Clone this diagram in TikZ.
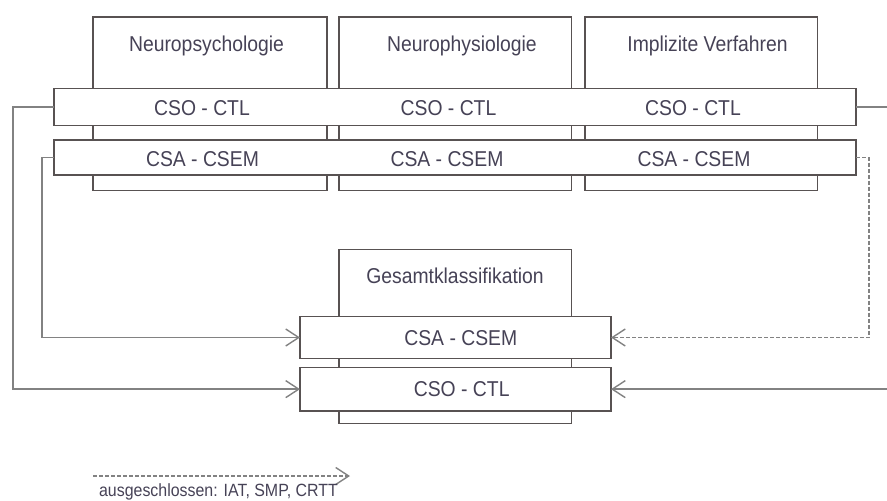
\documentclass[tikz,border=0pt]{standalone}
\usepackage{fontspec}
\setmainfont{Liberation Sans}[FakeStretch=0.9]
\usetikzlibrary{arrows.meta}
\definecolor{txt}{RGB}{70,66,86}
\definecolor{edge}{RGB}{88,82,82}
\definecolor{conn}{RGB}{130,130,130}
\tikzset{
  bigbox/.style={draw=edge, fill=white, line width=1.4pt, rectangle, inner sep=0pt, outer sep=0pt, minimum width=#1},
  strip/.style={draw=edge, fill=white, line width=1.4pt, rectangle, inner sep=0pt, outer sep=0pt},
  lbl/.style={text=txt, font=\fontsize{21.5}{24}\selectfont, inner sep=0pt, anchor=base},
  connector/.style={draw=conn, line width=1.6pt},
  tip/.style={-{Straight Barb[length=13pt,width=17pt,line width=1.4pt]}},
  dashline/.style={dash pattern=on 4pt off 2pt}
}
\begin{document}
\begin{tikzpicture}[x=1pt,y=-1pt]
\useasboundingbox (0,0) rectangle (887,501);
% big boxes
\node[bigbox=234pt, minimum height=173.5pt, anchor=north west] (bp) at (93,17) {};
\node[bigbox=232.5pt, minimum height=173.5pt, anchor=north west] (bn) at (339,17) {};
\node[bigbox=232.5pt, minimum height=173.5pt, anchor=north west] (bi) at (585,17) {};
\node[bigbox=232.5pt, minimum height=174pt, anchor=north west] (bg) at (339,249.3) {};
% headers
\node[lbl] (hp) at (206.5,51) {Neuropsychologie};
\node[lbl] (hn) at (462,51) {Neurophysiologie};
\node[lbl] (hi) at (707.5,51) {Implizite Verfahren};
\node[lbl] (hg) at (455,283.3) {Gesamtklassifikation};
% strips
\node[strip, minimum width=802pt, minimum height=37pt, anchor=north west] (csoTop) at (54,88.7) {};
\node[strip, minimum width=802pt, minimum height=35pt, anchor=north west] (csaTop) at (54,140) {};
\node[strip, minimum width=311pt, minimum height=41.6pt, anchor=north west] (csaBot) at (300,316.7) {};
\node[strip, minimum width=311pt, minimum height=43.7pt, anchor=north west] (csoBot) at (300,367.3) {};
% strip labels
\node[lbl] (t1) at (202,115) {CSO - CTL};
\node[lbl] (t2) at (448.5,115) {CSO - CTL};
\node[lbl] (t3) at (693,115) {CSO - CTL};
\node[lbl] (t4) at (202.5,166) {CSA - CSEM};
\node[lbl] (t5) at (447,166) {CSA - CSEM};
\node[lbl] (t6) at (694,166) {CSA - CSEM};
\node[lbl] (t7) at (460.8,345) {CSA - CSEM};
\node[lbl] (t8) at (461.7,396.7) {CSO - CTL};
% connector helper coordinates
\coordinate (lx1) at (13,0);
\coordinate (lx2) at (42,0);
\coordinate (rx) at (905,0);
\coordinate (dx) at (869,0);
% connectors
\draw[connector, tip] (csoTop.west) -| (lx1 |- csoBot.west) -- (csoBot.west);
\draw[connector, tip] (csaTop.west) -| (lx2 |- csaBot.west) -- (csaBot.west);
\draw[connector, tip] (csoTop.east) -| (rx |- csoBot.east) -- (csoBot.east);
\draw[connector, dashline, tip] (csaTop.east) -| (dx |- csaBot.east) -- (csaBot.east);
% legend
\coordinate (legA) at (93,476);
\coordinate (legB) at (350,476);
\draw[connector, dashline, tip] (legA) -- (legB);
\node[lbl, font=\fontsize{17.7}{20}\selectfont] (leg) at (218.5,496.5) {ausgeschlossen: IAT, SMP, CRTT};
\end{tikzpicture}
\end{document}
